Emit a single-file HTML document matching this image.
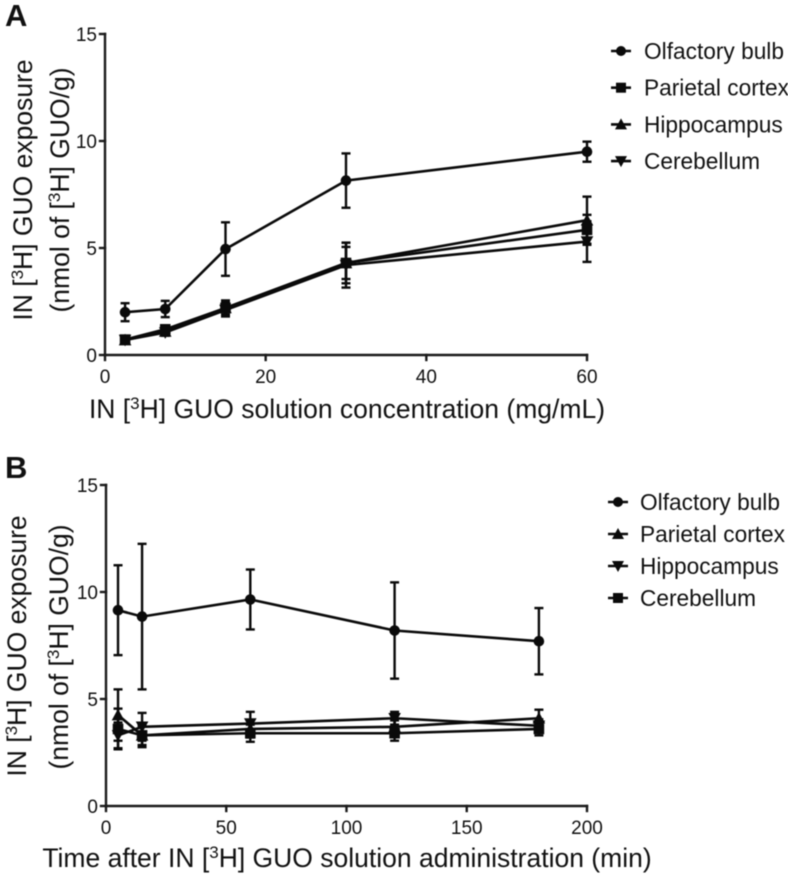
<!DOCTYPE html>
<html><head><meta charset="utf-8"><title>IN [3H] GUO exposure</title>
<style>
html,body{margin:0;padding:0;background:#fff}
svg{display:block;filter:blur(0.4px)}
text{font-family:"Liberation Sans",Arial,sans-serif;fill:#111}
.lab{font-size:26.5px}
.tick{font-size:19px}
.leg{font-size:22.7px}
.panel{font-size:31px;font-weight:bold}
</style></head>
<body>
<svg id="chart" width="788" height="876" viewBox="0 0 788 876" xmlns="http://www.w3.org/2000/svg">
<text class="panel" x="5" y="26">A</text>
<text class="panel" x="5" y="478">B</text>

<text class="lab" transform="translate(32,190) rotate(-90)" text-anchor="middle">IN [<tspan dy="-9" font-size="17">3</tspan><tspan dy="9">H] GUO exposure</tspan></text>
<text class="lab" transform="translate(69,190) rotate(-90)" text-anchor="middle">(nmol of [<tspan dy="-9" font-size="17">3</tspan><tspan dy="9">H] GUO/g)</tspan></text>
<text class="lab" x="347" y="418" text-anchor="middle">IN [<tspan dy="-9" font-size="17">3</tspan><tspan dy="9">H] GUO solution concentration (mg/mL)</tspan></text>

<text class="lab" transform="translate(26,646) rotate(-90)" text-anchor="middle">IN [<tspan dy="-9" font-size="17">3</tspan><tspan dy="9">H] GUO exposure</tspan></text>
<text class="lab" transform="translate(68,647) rotate(-90)" text-anchor="middle">(nmol of [<tspan dy="-9" font-size="17">3</tspan><tspan dy="9">H] GUO/g)</tspan></text>
<text class="lab" x="347" y="867" text-anchor="middle">Time after IN [<tspan dy="-9" font-size="17">3</tspan><tspan dy="9">H] GUO solution administration (min)</tspan></text>

<g id="plots"></g>
</svg>
<script>
// Panel A data
var aXValues = [2.5, 7.5, 15, 30, 60];
var aXTicks = [0, 20, 40, 60];
var aYTicks = [0, 5, 10, 15];
var aNames = ["Olfactory bulb", "Parietal cortex", "Hippocampus", "Cerebellum"];
var aMarkers = ["circle", "square", "triangle", "inverted"];
var aOlfactory = [2.0, 2.15, 4.95, 8.15, 9.5];
var aOlfactoryErr = [0.42, 0.38, 1.25, 1.27, 0.47];
var aParietal = [0.72, 1.2, 2.2, 4.3, 5.85];
var aParietalErr = [0.12, 0.18, 0.35, 0.75, 0.7];
var aHippocampus = [0.7, 1.1, 2.2, 4.3, 6.3];
var aHippocampusErr = [0.12, 0.15, 0.3, 0.95, 1.1];
var aCerebellum = [0.7, 1.05, 2.1, 4.2, 5.3];
var aCerebellumErr = [0.1, 0.15, 0.3, 1.05, 0.95];

// Panel B data
var bXValues = [5, 15, 60, 120, 180];
var bXTicks = [0, 50, 100, 150, 200];
var bYTicks = [0, 5, 10, 15];
var bNames = ["Olfactory bulb", "Parietal cortex", "Hippocampus", "Cerebellum"];
var bMarkers = ["circle", "triangle", "inverted", "square"];
var bOlfactory = [9.15, 8.85, 9.65, 8.2, 7.7];
var bOlfactoryErr = [2.1, 3.4, 1.4, 2.25, 1.55];
var bParietal = [4.25, 3.3, 3.6, 3.7, 4.1];
var bParietalErr = [1.2, 0.45, 0.4, 0.3, 0.4];
var bHippocampus = [3.3, 3.7, 3.85, 4.1, 3.75];
var bHippocampusErr = [0.6, 0.65, 0.55, 0.3, 0.3];
var bCerebellum = [3.6, 3.3, 3.4, 3.4, 3.6];
var bCerebellumErr = [0.95, 0.55, 0.4, 0.35, 0.3];

var NS = "http://www.w3.org/2000/svg";
var root = document.getElementById("plots");

function add(parent, tag, attrs, name) {
  var el = document.createElementNS(NS, tag);
  for (var k in attrs) el.setAttribute(k, attrs[k]);
  
  
  parent.appendChild(el);
  return el;
}

function marker(g, type, cx, cy, r, name) {
  if (type === "circle") {
    add(g, "circle", {cx: cx, cy: cy, r: r, fill: "#0a0a0a"}, name);
  } else if (type === "square") {
    add(g, "rect", {x: cx - r, y: cy - r, width: 2 * r, height: 2 * r, fill: "#0a0a0a"}, name);
  } else if (type === "triangle") {
    add(g, "polygon", {points: [cx, cy - r - 1, cx + r + 1, cy + r, cx - r - 1, cy + r].join(" "), fill: "#0a0a0a"}, name);
  } else {
    add(g, "polygon", {points: [cx, cy + r + 1, cx + r + 1, cy - r, cx - r - 1, cy - r].join(" "), fill: "#0a0a0a"}, name);
  }
}

function drawPanel(p) {
  var g = add(root, "g", {}, p.id + "-plot");
  function xs(v) { return p.x0 + (v - p.xMin) / (p.xMax - p.xMin) * (p.x1 - p.x0); }
  function ys(v) { return p.y0 + (v - 0) / (p.yMax - 0) * (p.y1 - p.y0); }

  // series
  p.series.forEach(function (s, si) {
    var sg = add(g, "g", {}, p.id + "-series-" + s.key);
    var pts = p.xv.map(function (x, i) { return xs(x) + "," + ys(s.v[i]); }).join(" ");
    add(sg, "polyline", {points: pts, fill: "none", stroke: "#0a0a0a", "stroke-width": 2.6}, p.id + "-line-" + s.key);
    p.xv.forEach(function (x, i) {
      var cx = xs(x), hi = ys(s.v[i] + s.e[i]), lo = ys(s.v[i] - s.e[i]);
      var st = {stroke: "#0a0a0a", "stroke-width": 2.4};
      add(sg, "line", Object.assign({x1: cx, x2: cx, y1: hi, y2: lo}, st), p.id + "-error-bar-" + s.key);
      add(sg, "line", Object.assign({x1: cx - 4.5, x2: cx + 4.5, y1: hi, y2: hi}, st), p.id + "-error-cap-" + s.key);
      add(sg, "line", Object.assign({x1: cx - 4.5, x2: cx + 4.5, y1: lo, y2: lo}, st), p.id + "-error-cap-" + s.key);
      marker(sg, s.m, cx, ys(s.v[i]), 5.3, p.id + "-point-" + s.key);
    });
  });

  // axes
  var ax = {stroke: "#1a1a1a", "stroke-width": 2.4, "stroke-linecap": "square"};
  add(g, "line", Object.assign({x1: p.x0, x2: p.x0, y1: p.y0, y2: p.y1}, ax), p.id + "-y-axis");
  add(g, "line", Object.assign({x1: p.x0, x2: p.x1, y1: p.y0, y2: p.y0}, ax), p.id + "-x-axis");
  p.xt.forEach(function (t) {
    var x = xs(t);
    add(g, "line", Object.assign({x1: x, x2: x, y1: p.y0, y2: p.y0 + 5}, ax), p.id + "-x-tick");
    var tx = add(g, "text", {x: x, y: p.y0 + 28, "text-anchor": "middle", "class": "tick"}, p.id + "-x-tick-label");
    tx.textContent = t;
  });
  p.yt.forEach(function (t) {
    var y = ys(t);
    add(g, "line", Object.assign({x1: p.x0 - 5, x2: p.x0, y1: y, y2: y}, ax), p.id + "-y-tick");
    var ty = add(g, "text", {x: p.x0 - 8, y: y + 7, "text-anchor": "end", "class": "tick"}, p.id + "-y-tick-label");
    ty.textContent = t;
  });

  // legend
  p.names.forEach(function (n, i) {
    var ly = p.legY + i * p.legStep;
    var lg = add(g, "g", {}, p.id + "-legend-entry");
    add(lg, "line", {x1: p.legX, x2: p.legX + 20, y1: ly, y2: ly, stroke: "#0a0a0a", "stroke-width": 2.6}, p.id + "-legend-line");
    marker(lg, p.markers[i], p.legX + 10, ly, 5, p.id + "-legend-marker");
    var t = add(lg, "text", {x: p.legX + p.legGap, y: ly + 8, "class": "leg"}, p.id + "-legend-label");
    t.textContent = n;
  });
}

drawPanel({
  id: "panel-a", x0: 105, x1: 587, xMin: 0, xMax: 60, y0: 355, y1: 34, yMax: 15,
  xv: aXValues, xt: aXTicks, yt: aYTicks, names: aNames, markers: aMarkers,
  legX: 611, legGap: 33, legY: 51, legStep: 36.7,
  series: [
    {key: "olfactory-bulb", m: "circle", v: aOlfactory, e: aOlfactoryErr},
    {key: "hippocampus", m: "triangle", v: aHippocampus, e: aHippocampusErr},
    {key: "cerebellum", m: "inverted", v: aCerebellum, e: aCerebellumErr},
    {key: "parietal-cortex", m: "square", v: aParietal, e: aParietalErr}
  ]
});

drawPanel({
  id: "panel-b", x0: 106, x1: 587, xMin: 0, xMax: 200, y0: 806, y1: 485, yMax: 15,
  xv: bXValues, xt: bXTicks, yt: bYTicks, names: bNames, markers: bMarkers,
  legX: 608, legGap: 32, legY: 502, legStep: 32,
  series: [
    {key: "olfactory-bulb", m: "circle", v: bOlfactory, e: bOlfactoryErr},
    {key: "parietal-cortex", m: "triangle", v: bParietal, e: bParietalErr},
    {key: "hippocampus", m: "inverted", v: bHippocampus, e: bHippocampusErr},
    {key: "cerebellum", m: "square", v: bCerebellum, e: bCerebellumErr}
  ]
});
</script>
</body></html>
